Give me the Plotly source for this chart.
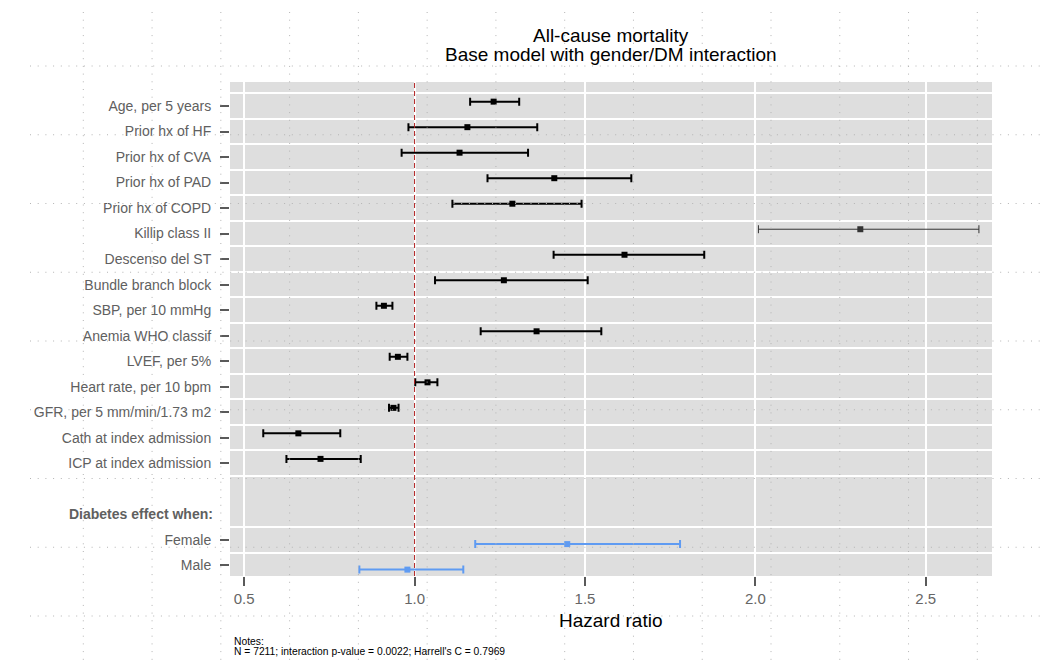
import plotly.graph_objects as go

# ---------------- data ----------------
labels = ["Age, per 5 years", "Prior hx of HF", "Prior hx of CVA", "Prior hx of PAD",
          "Prior hx of COPD", "Killip class II", "Descenso del ST", "Bundle branch block",
          "SBP, per 10 mmHg", "Anemia WHO classif", "LVEF, per 5%", "Heart rate, per 10 bpm",
          "GFR, per 5 mm/min/1.73 m2", "Cath at index admission", "ICP at index admission"]
hr = [1.232, 1.155, 1.132, 1.410, 1.287, 2.308, 1.616, 1.262, 0.910, 1.358, 0.951, 1.038,
      0.938, 0.659, 0.724]
lo = [1.163, 0.982, 0.962, 1.214, 1.111, 2.009, 1.408, 1.060, 0.888, 1.194, 0.927, 1.002,
      0.925, 0.556, 0.624]
hi = [1.307, 1.360, 1.333, 1.636, 1.490, 2.656, 1.850, 1.508, 0.935, 1.548, 0.979, 1.067,
      0.953, 0.782, 0.842]

dm_header = "Diabetes effect when:"
dm_labels = ["Female", "Male"]
dm_hr = [1.448, 0.979]
dm_lo = [1.178, 0.838]
dm_hi = [1.779, 1.143]

x_ticks = [0.5, 1.0, 1.5, 2.0, 2.5]
x_ticktext = ["0.5", "1.0", "1.5", "2.0", "2.5"]

title_lines = ["All-cause mortality", "Base model with gender/DM interaction"]
x_title = "Hazard ratio"
notes = ["Notes:", "N = 7211; interaction p-value = 0.0022; Harrell's C = 0.7969"]

# ---------------- layout geometry ----------------
W, H = 1048, 666
L, R, T, B = 230, 992, 82, 576
FONT = "Liberation Sans, Arial, Helvetica, sans-serif"

def px_x(p):
    return (p - L) / (R - L)

def px_y(p):
    return (B - p) / (B - T)

n = len(labels)
rows_main = list(range(1, n + 1))
row_header = n + 2
rows_dm = [n + 3 + i for i in range(len(dm_labels))]
off = 0.17

thin = {"Killip class II"}
idx_thick = [i for i, l in enumerate(labels) if l not in thin]
idx_thin = [i for i, l in enumerate(labels) if l in thin]

fig = go.Figure()

def add_group(idx, color, thickness):
    fig.add_trace(go.Scatter(
        x=[hr[i] for i in idx],
        y=[rows_main[i] - off for i in idx],
        mode="markers",
        marker=dict(symbol="square", size=6, color=color),
        error_x=dict(type="data", symmetric=False,
                     array=[hi[i] - hr[i] for i in idx],
                     arrayminus=[hr[i] - lo[i] for i in idx],
                     color=color, thickness=thickness, width=4),
        showlegend=False, hoverinfo="skip"))

add_group(idx_thick, "black", 2)
add_group(idx_thin, "#333333", 1)

blue = "#5F9BF2"
fig.add_trace(go.Scatter(
    x=dm_hr, y=[r + off for r in rows_dm], mode="markers",
    marker=dict(symbol="square", size=6, color=blue),
    error_x=dict(type="data", symmetric=False,
                 array=[h - m for h, m in zip(dm_hi, dm_hr)],
                 arrayminus=[m - l for m, l in zip(dm_hr, dm_lo)],
                 color=blue, thickness=2, width=4),
    showlegend=False, hoverinfo="skip"))

# minor (between-row) white grid lines
minor_vals = [r + 0.5 for r in range(0, n + 1)] + [r - 0.5 for r in rows_dm]

fig.update_layout(
    width=W, height=H,
    margin=dict(l=L, r=W - R, t=T, b=H - B),
    paper_bgcolor="white", plot_bgcolor="#DEDEDE",
    font=dict(family=FONT),
    xaxis=dict(range=[0.4584, 2.6944], tickvals=x_ticks, ticktext=x_ticktext,
               ticks="outside", ticklen=9, tickwidth=2, tickcolor="#5a5a5a",
               tickfont=dict(size=15, color="#666666", family=FONT),
               showgrid=True, gridcolor="white", gridwidth=2,
               zeroline=False, showline=False, fixedrange=True),
    yaxis=dict(range=[rows_dm[-1] + 0.42, 0.06], tickvals=rows_main + rows_dm,
               ticktext=labels + dm_labels,
               ticks="outside", ticklen=9, tickwidth=2, tickcolor="#5a5a5a",
               ticklabelstandoff=6,
               tickfont=dict(size=14, color="#606060", family=FONT),
               showgrid=False, zeroline=False, showline=False,
               minor=dict(tickvals=minor_vals, showgrid=True, gridcolor="white",
                          gridwidth=2, ticks=""),
               fixedrange=True),
)

# reference line at HR = 1
fig.add_shape(type="line", xref="x", yref="paper", x0=1, x1=1, y0=0, y1=1,
              line=dict(color="#B22222", width=1, dash="5px,3px"), layer="above")

# dotted background lattice covering the page
dot = dict(color="#B4B4B4", width=1, dash="1px,6.7px")
for k in range(14):
    xp = 83.3 + 68.77 * k
    fig.add_shape(type="line", xref="paper", yref="paper",
                  x0=px_x(xp), x1=px_x(xp), y0=px_y(12), y1=px_y(666),
                  line=dot, layer="above")
for k in range(9):
    yp = 66 + 68.75 * k
    fig.add_shape(type="line", xref="paper", yref="paper",
                  x0=px_x(30), x1=px_x(1040), y0=px_y(yp), y1=px_y(yp),
                  line=dot, layer="above")

# header label for the diabetes block
fig.add_annotation(x=px_x(215), y=row_header, xref="paper", yref="y",
                   text="<b>" + dm_header + "</b>", showarrow=False,
                   xanchor="right", yanchor="middle",
                   font=dict(size=14, color="#606060", family=FONT))

# titles
fig.add_annotation(x=0.5, y=px_y(36), xref="paper", yref="paper", text=title_lines[0],
                   showarrow=False, xanchor="center", yanchor="middle",
                   font=dict(size=19, color="black", family=FONT))
fig.add_annotation(x=0.5, y=px_y(55), xref="paper", yref="paper", text=title_lines[1],
                   showarrow=False, xanchor="center", yanchor="middle",
                   font=dict(size=19, color="black", family=FONT))
fig.add_annotation(x=0.5, y=px_y(620), xref="paper", yref="paper", text=x_title,
                   showarrow=False, xanchor="center", yanchor="middle",
                   font=dict(size=19, color="black", family=FONT))
fig.add_annotation(x=px_x(232), y=px_y(641), xref="paper", yref="paper", text=notes[0],
                   showarrow=False, xanchor="left", yanchor="middle",
                   font=dict(size=10.3, color="black", family=FONT))
fig.add_annotation(x=px_x(232), y=px_y(651), xref="paper", yref="paper", text=notes[1],
                   showarrow=False, xanchor="left", yanchor="middle",
                   font=dict(size=10.3, color="black", family=FONT))

fig.write_html("out.html", config={"displayModeBar": False},
               post_script="document.body.style.margin='0px';")
